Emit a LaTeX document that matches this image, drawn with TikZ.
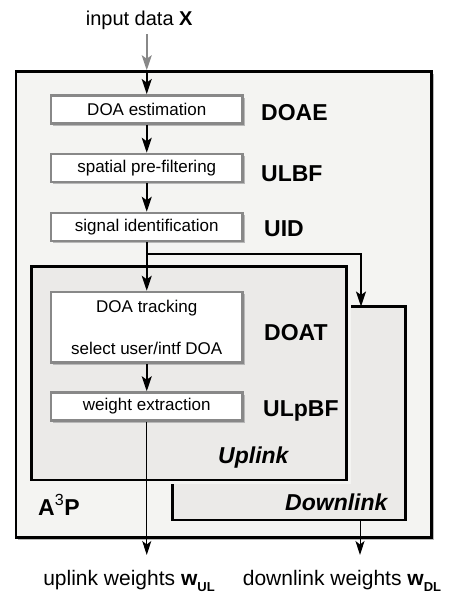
\documentclass[tikz,border=0pt]{standalone}
\usepackage{fontspec}
\setmainfont{Liberation Sans}
\usetikzlibrary{arrows.meta,shadows}

\definecolor{outerfill}{HTML}{F4F4F2}
\definecolor{innerfill}{HTML}{EBEAE8}
\definecolor{boxedge}{HTML}{888888}

\newcommand\bxfont{\fontsize{17}{20}\selectfont}
\newcommand\tagfont{\fontsize{23}{27}\selectfont\bfseries}
\newcommand\iofont{\fontsize{20}{24}\selectfont}
\newcommand\outfont{\fontsize{21}{25}\selectfont}
\newcommand\wsub[1]{\raisebox{-6.5pt}{\fontsize{13}{14}\selectfont\bfseries #1}}

\tikzset{
  frame/.style={draw=black, line width=2.5pt, inner sep=0pt},
  shade/.style={drop shadow={shadow xshift=2.2pt, shadow yshift=-2.2pt, fill=black!28, opacity=1}},
  stepbox/.style={draw=boxedge, line width=2.5pt, fill=white, inner sep=0pt,
    minimum width=191.5pt, minimum height=28pt, font=\bxfont, shade},
  tag/.style={anchor=base west, inner sep=0pt, font=\tagfont},
  io/.style={anchor=base, inner sep=0pt, font=\iofont},
  flow/.style={draw=black, line width=2pt, -{Stealth[length=15pt, width=10pt, inset=3.5pt]}},
  feed/.style={draw=boxedge, line width=2pt, -{Stealth[length=15pt, width=10pt, inset=3.5pt]}},
  outflow/.style={draw=black, line width=1pt, -{Stealth[length=14pt, width=9pt, inset=3.5pt]}},
}

\begin{document}
\begin{tikzpicture}[x=1pt, y=-1pt]
  \useasboundingbox (0,0) rectangle (448,595);

  % enclosing A3P processor
  \node[frame, fill=outerfill, shade, minimum width=415.5pt, minimum height=466pt] (a3p) at (223.75,304.5) {};

  % downlink part, partly hidden behind the uplink part
  \node[frame, fill=innerfill, minimum width=233pt, minimum height=213.5pt] (dl) at (289,413.25) {};
  % thin clearance round the uplink part
  \node[draw=outerfill, line width=8pt, inner sep=0pt, minimum width=315.2pt, minimum height=213.3pt] (ulgap) at (188.9,373.35) {};
  \node[frame, fill=innerfill, minimum width=315.2pt, minimum height=213.3pt] (ul) at (188.9,373.35) {};

  % processing steps
  \node[stepbox] (doae) at (146.75,109.3) {DOA estimation};
  \node[stepbox] (ulbf) at (146.75,168) {spatial pre-filtering};
  \node[stepbox] (uid)  at (146.75,227) {signal identification};
  \node[stepbox, minimum height=70.5pt, align=center] (doat) at (146.75,327.25)
    {DOA tracking\\[22pt]select user/intf DOA};
  \node[stepbox] (wext) at (146.75,406.5) {weight extraction};

  % block tags
  \node[tag] (tdoae)  at (261,120.5) {DOAE};
  \node[tag] (tulbf)  at (261,181) {ULBF};
  \node[tag] (tuid)   at (264,236.5) {UID};
  \node[tag] (tdoat)  at (264,340) {DOAT};
  \node[tag] (tulpbf) at (263,416.5) {ULpBF};
  \node[tag, font=\tagfont\itshape] (tup)   at (218,463) {Uplink};
  \node[tag, font=\tagfont\itshape] (tdown) at (285,510) {Downlink};
  \node[tag] (ta3p) at (38,515) {A\textsuperscript{\mdseries 3}P};

  % inputs and outputs
  \node[io] (inlbl) at (139.2,25) {input data \textbf{X}};
  \node[io, font=\outfont] (ullbl) at (129,585) {uplink weights \textbf{w}\wsub{UL}};
  \node[io, font=\outfont] (dllbl) at (342,585) {downlink weights \textbf{w}\wsub{DL}};

  \coordinate (split) at (146.75,254);
  \coordinate (dlin)  at (361,306.5);
  \coordinate (ulend) at (146.75,555);
  \coordinate (dlend) at (360,555);

  % signal flow
  \draw[feed] ([yshift=-5pt]inlbl.south -| doae.north) -- (doae.north |- a3p.north);
  \draw[flow] (doae.north |- a3p.north) -- (doae.north);
  \draw[flow] (doae) -- (ulbf);
  \draw[flow] (ulbf) -- (uid);
  \draw[flow] (uid) -- (doat);
  \draw[flow] (split) -| (dlin);
  \draw[flow] (doat) -- (wext);
  \draw[outflow] (wext) -- (ulend);
  \draw[outflow] (dlend |- dl.south) -- (dlend);
\end{tikzpicture}
\end{document}
